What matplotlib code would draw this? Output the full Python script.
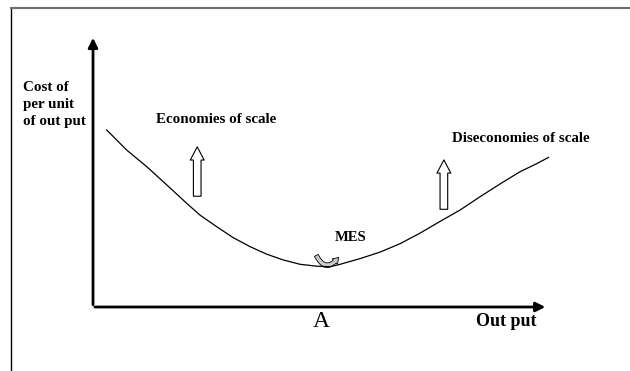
import numpy as np
import matplotlib
matplotlib.use("Agg")
import matplotlib.pyplot as plt
from matplotlib.patches import FancyArrowPatch

# Long-run average cost curve (output on x, cost per unit on y)
output = [0.30, 0.74, 1.18, 1.62, 2.06, 2.35, 2.72, 3.08, 3.45, 3.82, 4.18, 4.55, 4.92, 5.21,
          5.43, 5.87, 6.31, 6.75, 7.19, 7.63, 8.07, 8.51, 8.95, 9.38, 9.75, 10.01]
cost = [6.51, 5.77, 5.16, 4.49, 3.81, 3.38, 2.95, 2.55, 2.22, 1.94, 1.73, 1.57, 1.50, 1.48,
        1.57, 1.78, 2.02, 2.33, 2.72, 3.15, 3.57, 4.06, 4.53, 4.97, 5.27, 5.50]

# Tick gaps around point A on the output axis
a_gaps = [4.26, 5.67]

# Hollow arrows: (x, y bottom, y top)
econ_arrow = (2.29, 3.97, 5.99)
disecon_arrow = (7.71, 3.49, 5.51)

serif = "Liberation Serif"

fig = plt.figure(figsize=(6.3, 3.71), dpi=100)
ax = fig.add_axes([0, 0, 1, 1])
ax.set_xlim(-2.044, 11.80)
ax.set_ylim(-2.353, 11.287)
ax.axis("off")

# page frame (left and top)
ax.plot([0.0175, 0.0175], [0, 0.978], color="black", lw=1, transform=ax.transAxes)
ax.plot([0.0175, 1], [0.978, 0.978], color="#6e6e6e", lw=1.5, transform=ax.transAxes)

# axes with arrow heads
ax.annotate("", xy=(0, 10.0), xytext=(0, -0.02),
            arrowprops=dict(arrowstyle="-|>", color="black", lw=2, mutation_scale=14))
ax.annotate("", xy=(10.0, 0), xytext=(-0.02, 0),
            arrowprops=dict(arrowstyle="-|>", color="black", lw=2, mutation_scale=14))
for g in a_gaps:
    ax.plot([g, g], [-0.08, 0.08], color="white", lw=1.2)

# cost curve
ax.plot(output, cost, color="black", lw=0.9)

# hollow up arrows
for x, y0, y1 in [econ_arrow, disecon_arrow]:
    arr = FancyArrowPatch((x, y0), (x, y1),
                          arrowstyle="simple,head_width=10,head_length=9.5,tail_width=5.5",
                          mutation_scale=1, facecolor="white", edgecolor="black", lw=0.8)
    ax.add_patch(arr)

# small curved arrow at the minimum efficient scale
mes = FancyArrowPatch((4.88, 1.99), (5.43, 1.91), connectionstyle="arc3,rad=0.9",
                      arrowstyle="simple,head_width=5.5,head_length=4,tail_width=3",
                      mutation_scale=1, facecolor="#c8c8c8", edgecolor="black", lw=0.6)
ax.add_patch(mes)

# labels
ax.text(-1.54, 7.45, "Cost of\nper unit\nof out put", family=serif, weight="bold",
        fontsize=10.8, ha="left", va="center", linespacing=1.38)
ax.text(2.71, 6.88, "Economies of scale", family=serif, weight="bold",
        fontsize=10.8, ha="center", va="center")
ax.text(9.41, 6.21, "Diseconomies of scale", family=serif, weight="bold",
        fontsize=10.8, ha="center", va="center")
ax.text(5.65, 2.54, "MES", family=serif, weight="bold",
        fontsize=10.5, ha="center", va="center")
ax.text(5.01, -0.55, "A", family=serif, fontsize=17, ha="center", va="center")
ax.text(9.08, -0.55, "Out put", family=serif, weight="bold",
        fontsize=13, ha="center", va="center")

fig.savefig("out.png", dpi=100)
